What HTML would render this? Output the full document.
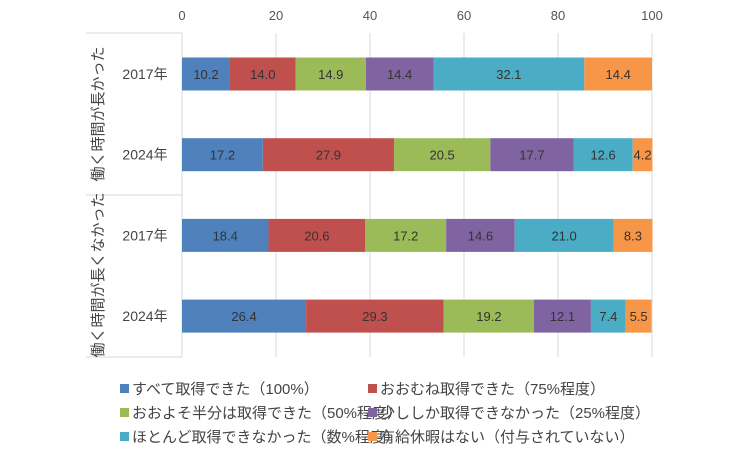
<!DOCTYPE html>
<html><head><meta charset="utf-8"><style>
body{margin:0;background:#fff;}
svg text{font-family:"Liberation Sans","Noto Sans CJK JP",sans-serif;}
</style></head><body>
<svg id="c" width="750" height="457" xmlns="http://www.w3.org/2000/svg"></svg>
<script>
const groups=["働く時間が長かった","働く時間が長くなかった"];
const years=["2017年","2024年","2017年","2024年"];
const seriesNames=["すべて取得できた（100%）","おおむね取得できた（75%程度）","おおよそ半分は取得できた（50%程度）","少ししか取得できなかった（25%程度）","ほとんど取得できなかった（数%程度）","有給休暇はない（付与されていない）"];
const s1=[10.2,17.2,18.4,26.4];
const s2=[14.0,27.9,20.6,29.3];
const s3=[14.9,20.5,17.2,19.2];
const s4=[14.4,17.7,14.6,12.1];
const s5=[32.1,12.6,21.0,7.4];
const s6=[14.4,4.2,8.3,5.5];
const ticks=[0,20,40,60,80,100];
const series=[s1,s2,s3,s4,s5,s6];
const colors=["#4f81bd","#c0504d","#9bbb59","#8064a2","#4bacc6","#f79646"];
const svg=document.getElementById('c');
const NS="http://www.w3.org/2000/svg";
function mk(t,a,p){const e=document.createElementNS(NS,t);for(const k in a)e.setAttribute(k,a[k]);(p||svg).appendChild(e);return e;}
const x=v=>182+v*4.7;
const rowY=i=>74+i*80.7;
const bh=33;
ticks.forEach(t=>{
 const l=mk('line',{x1:x(t),x2:x(t),y1:33,y2:357,stroke:'#d9d9d9','stroke-width':1});
 
 
 const tx=mk('text',{x:x(t),y:20,'text-anchor':'middle','font-size':13,fill:'#555'});
 tx.textContent=t;
 
 
});
// category box lines
[[86,33,182,33],[86,195,182,195],[86,357,182,357],[182,33,182,357]].forEach(a=>{
 const l=mk('line',{x1:a[0],y1:a[1],x2:a[2],y2:a[3],stroke:'#d9d9d9','stroke-width':1});
 
 
});
groups.forEach((g,i)=>{
 const cy=114+i*161;
 const t=mk('text',{x:0,y:0,'text-anchor':'middle','font-size':15,fill:'#444',transform:`translate(103,${cy}) rotate(-90)`});
 t.textContent=g;
 
 
});
years.forEach((y,i)=>{
 const t=mk('text',{x:145,y:rowY(i)+5,'text-anchor':'middle','font-size':14,fill:'#444'});
 t.textContent=y;
 
 
 let acc=0;
 series.forEach((s,k)=>{
  const v=s[i];
  const r=mk('rect',{x:x(acc),y:rowY(i)-bh/2,width:x(acc+v)-x(acc),height:bh,fill:colors[k]});
  
  
  const lt=mk('text',{x:(x(acc)+x(acc+v))/2,y:rowY(i)+5,'text-anchor':'middle','font-size':13,fill:'#333'});
  lt.textContent=v.toFixed(1);
  
  
  acc+=v;
 });
});
seriesNames.forEach((n,k)=>{
 const lx=k%2?368:120, ly=389+Math.floor(k/2)*24;
 const g=mk('g',{});
 
 
 mk('rect',{x:lx,y:ly-5,width:9,height:9,fill:colors[k]},g);
 const t=mk('text',{x:lx+12,y:ly+5,'font-size':15,fill:'#444'},g);
 t.textContent=n;
});
</script>
</body></html>
